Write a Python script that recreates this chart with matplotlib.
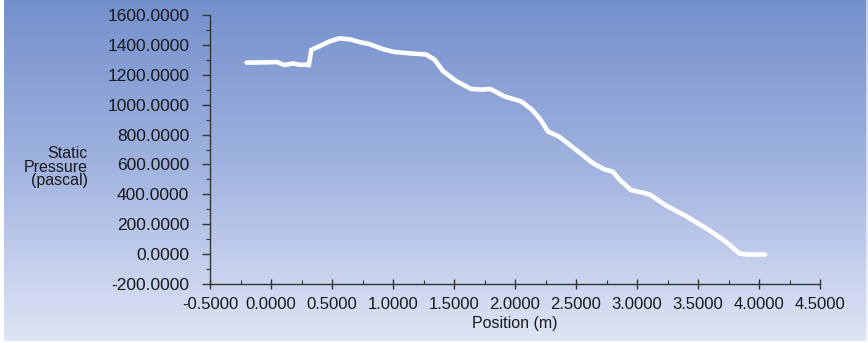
import numpy as np
import matplotlib
matplotlib.use("Agg")
import matplotlib.pyplot as plt
from matplotlib.ticker import MultipleLocator, FormatStrFormatter

plt.rcParams['font.family'] = ['Liberation Sans', 'DejaVu Sans']

# Static pressure along the line (m, Pa)
position = [-0.20, -0.05, 0.05, 0.11, 0.18, 0.24, 0.30, 0.31, 0.33, 0.36,
            0.40, 0.48, 0.56, 0.65, 0.73, 0.80, 0.91, 1.00, 1.14, 1.27,
            1.34, 1.41, 1.52, 1.64, 1.73, 1.80, 1.91, 2.05, 2.14, 2.21,
            2.27, 2.36, 2.50, 2.64, 2.73, 2.80, 2.86, 2.95, 3.05, 3.11,
            3.23, 3.41, 3.59, 3.73, 3.84, 3.91, 4.05]
pressure = [1281, 1283, 1285, 1265, 1276, 1266, 1268, 1262, 1365, 1378,
            1392, 1423, 1444, 1437, 1418, 1407, 1374, 1354, 1343, 1336,
            1302, 1224, 1157, 1105, 1101, 1105, 1056, 1022, 966, 899,
            821, 787, 698, 608, 568, 552, 496, 429, 411, 396,
            329, 250, 161, 82, 4, -3, -3]

x_ticks = [-0.5, 0.0, 0.5, 1.0, 1.5, 2.0, 2.5, 3.0, 3.5, 4.0, 4.5]
y_ticks = [-200, 0, 200, 400, 600, 800, 1000, 1200, 1400, 1600]

W, H = 868, 343
fig = plt.figure(figsize=(W / 100, H / 100), dpi=100)

# vertical blue gradient background
bg = fig.add_axes([0, 0, 1, 1], zorder=-10)
t = np.linspace(0, 1, 400)[:, None]
top = np.array([116, 144, 204]) / 255
mid = np.array([162, 180, 224]) / 255
bot = np.array([224, 230, 246]) / 255
grad = np.where(t < 0.5, top + (mid - top) * (t / 0.5),
                mid + (bot - mid) * ((t - 0.5) / 0.5))
img = np.repeat(grad[:, None, :], 2, axis=1).reshape(400, 2, 3)
bg.imshow(img, aspect='auto', extent=[0, 1, 0, 1], origin='upper')
# thin light frame on the left, right and bottom edges
bg.axvspan(0, 4 / W, color='white', lw=0)
bg.axvspan(1 - 2 / W, 1, color='white', lw=0, alpha=0.6)
bg.axhspan(0, 2 / H, color='white', lw=0)
bg.set_xlim(0, 1)
bg.set_ylim(0, 1)
bg.axis('off')

ax = fig.add_axes([210 / W, 1 - 284 / H, 610 / W, 269 / H])
ax.patch.set_alpha(0)

ax.plot(position, pressure, color='white', lw=3.3,
        solid_capstyle='round', solid_joinstyle='round')

ax.set_xlim(-0.5, 4.5)
ax.set_ylim(-200, 1600)
ax.set_xticks(x_ticks)
ax.set_yticks(y_ticks)
ax.xaxis.set_minor_locator(MultipleLocator(0.25))
ax.yaxis.set_minor_locator(MultipleLocator(100))
ax.xaxis.set_major_formatter(FormatStrFormatter('%.4f'))
ax.yaxis.set_major_formatter(FormatStrFormatter('%.4f'))

for s in ['top', 'right']:
    ax.spines[s].set_visible(False)
for s in ['left', 'bottom']:
    ax.spines[s].set_color('#333333')
    ax.spines[s].set_linewidth(1.0)

ax.tick_params(axis='y', which='major', direction='out', length=6, width=1,
               color='#333333', labelsize=12.5, pad=9, labelcolor='#1a1a1a')
ax.tick_params(axis='y', which='minor', direction='out', length=3, width=0.8,
               color='#333333')
ax.tick_params(axis='x', which='major', direction='inout', length=7, width=1,
               color='#333333', labelsize=12, pad=6, labelcolor='#1a1a1a')
ax.tick_params(axis='x', which='minor', direction='in', length=3, width=0.8,
               color='#333333')

ax.set_xlabel('Position (m)', fontsize=11.5, color='#1a1a1a', labelpad=3)
fig.text(88 / W, 1 - 167 / H, 'Static\nPressure\n(pascal)', ha='right',
         va='center', fontsize=11.5, color='#1a1a1a', linespacing=0.9)

fig.savefig('out.png', dpi=100)
